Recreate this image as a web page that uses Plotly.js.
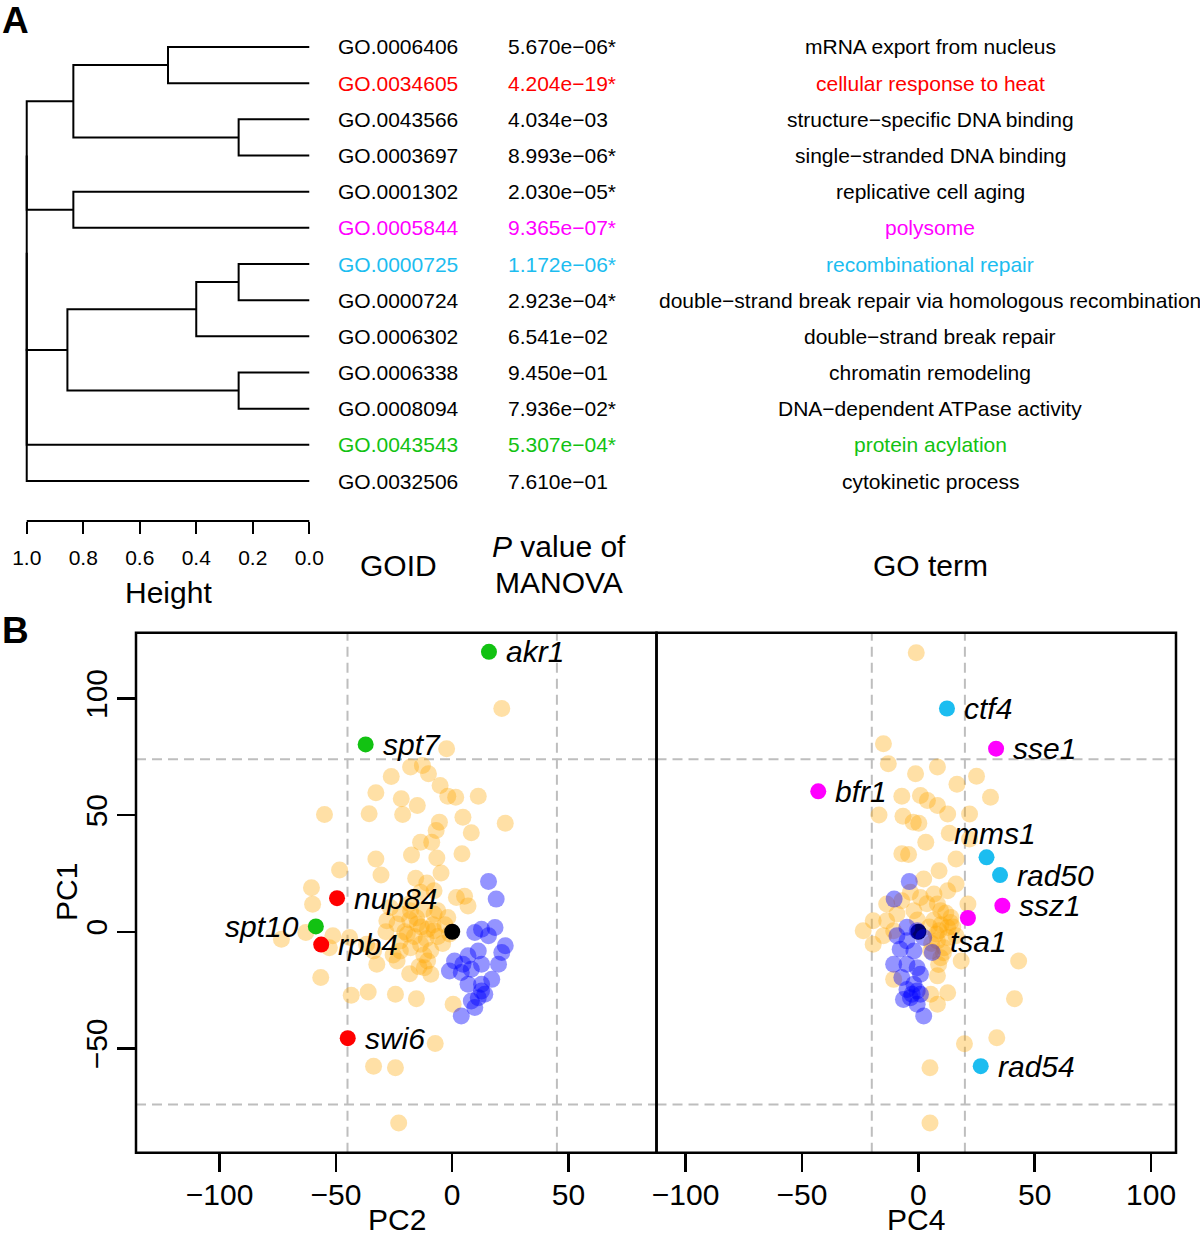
<!DOCTYPE html>
<html>
<head>
<meta charset="utf-8">
<script src="https://cdn.plot.ly/plotly-3.0.1.min.js"></script>
<style>html,body{margin:0;padding:0;background:#fff;}#chart{width:1200px;height:1235px;}</style>
</head>
<body>
<div id="chart"></div>
<script>
// ---------------- Panel A data ----------------
const goIds = ["GO.0006406","GO.0034605","GO.0043566","GO.0003697","GO.0001302","GO.0005844","GO.0000725","GO.0000724","GO.0006302","GO.0006338","GO.0008094","GO.0043543","GO.0032506"];
const pValues = ["5.670e\u221206*","4.204e\u221219*","4.034e\u221203","8.993e\u221206*","2.030e\u221205*","9.365e\u221207*","1.172e\u221206*","2.923e\u221204*","6.541e\u221202","9.450e\u221201","7.936e\u221202*","5.307e\u221204*","7.610e\u221201"];
const goTerms = ["mRNA export from nucleus","cellular response to heat","structure\u2212specific DNA binding","single\u2212stranded DNA binding","replicative cell aging","polysome","recombinational repair","double\u2212strand break repair via homologous recombination","double\u2212strand break repair","chromatin remodeling","DNA\u2212dependent ATPase activity","protein acylation","cytokinetic process"];
const rowColors = ["#000000","#FF0000","#000000","#000000","#000000","#FF00FF","#1CBDF0","#000000","#000000","#000000","#000000","#12C212","#000000"];
// hclust-style merge table (negative = leaf index, positive = earlier merge)
const mergeTable = [[-1,-2],[-3,-4],[1,2],[-5,-6],[-7,-8],[5,-9],[-10,-11],[6,7],[3,4],[9,8],[10,-12],[11,-13]];
const mergeHeights = [0.50,0.25,0.835,0.835,0.25,0.40,0.25,0.856,1.0,1.0,1.0,1.0];
const heightTicks = [1.0,0.8,0.6,0.4,0.2,0.0];

// ---------------- Panel B data ----------------
// left panel: PC2 (x) vs PC1 (y)
const bgPC2 = [21.3,-2.4,-17.9,-12.8,-10.2,-26.2,-5.2,-32.8,-21.9,-15.0,-1.9,1.5,11.2,-54.9,-35.7,-21.3,4.6,-5.5,22.8,-6.9,8.2,-13.6,-8.8,-17.5,-6.6,4.2,-32.8,-30.6,-4.8,-15.7,-10.9,-48.4,-60.5,-60.0,5.3,1.8,-13.6,-7.8,-26.6,-22.3,-17.9,-12.0,-7.8,-1.9,6.8,-15.0,-10.6,-19.3,-23.7,-28.1,-7.8,-17.9,-13.6,-22.3,-33.8,-36.8,-44.1,-51.3,-62.9,-73.4,-52.8,-32.4,-23.7,-10.6,-12.0,-9.2,-56.5,-43.4,-36.1,-24.4,-15.4,0.4,-7.3,-33.8,-24.4,-23.0,-18.3,-13.3,-8.2,-16.3,-11.2,-6.2,-20.4,-3.1,-15.3,-9.2,-4.1,-22.4,-25.4,-12.2,-6.2,-18.3,-1.1,-28.5,-14.3,-18.3];
const bgPC1a = [95.7,78.5,70.6,71.3,67.7,66.6,62.7,59.6,57.0,54.1,58.1,57.7,58.1,50.3,50.6,50.3,49.1,47.0,46.5,43.4,42.4,38.4,38.4,32.9,31.6,33.4,31.2,24.3,25.2,22.9,20.9,26.5,18.9,11.8,15.2,14.7,16.9,17.6,10.4,7.6,9.0,9.7,7.6,6.1,11.1,3.3,1.1,-1.0,3.3,4.7,0.4,-6.8,-5.3,-8.2,-8.2,-5.3,-2.5,-1.7,-0.3,-3.2,-6.8,-13.9,-12.5,-12.5,-15.4,-18.2,-19.6,-27.2,-25.8,-26.8,-28.7,-31.1,-47.9,-57.6,-58.3,-82.0,5,2,3,-2,-3,-2,0,3,6,-8,-5,-4,-10,-10,9,12,-1,0,-15,-18];
const blPC2 = [15.6,18.9,12.6,18.4,9.7,15.6,22.8,21.3,11.2,6.8,1.0,4.6,12.6,19.9,-1.2,3.9,8.2,17.0,6.8,12.6,11.2,14.0,8.2,9.7,3.9,12.6];
const blPC1a = [21.6,14.0,1.1,1.8,-0.3,-1.7,-6.0,-8.9,-8.2,-10.3,-12.5,-13.9,-13.9,-13.9,-16.8,-17.5,-16.1,-20.4,-22.5,-25.4,-28.3,-26.8,-29.7,-32.5,-36.1,-22.5];
// right panel: PC4 (x) vs PC1 (y)
const bgPC4 = [-0.9,-15.0,-12.9,8.2,-1.2,25.0,16.6,-7.1,0.9,3.9,31.0,8.2,12.6,22.0,-16.9,-6.6,-2.2,0.2,13.3,3.2,22.0,-7.1,-4.2,16.2,8.9,2.3,16.2,12.6,-3.4,6.7,-13.6,-7.1,0.9,8.2,21.3,-9.2,-1.9,9.6,14.0,12.6,8.9,-13.6,-19.4,-23.7,-19.4,-15.0,-10.6,8.2,11.1,18.4,5.3,9.6,43.1,-10.6,8.2,5.3,12.6,8.2,41.3,33.7,19.8,5.0,5.0,16.2,12.6,6.7,9.7,4.7,13.8,7.7,11.8,5.7,10.8,3.7,-0.4,14.8,8.7];
const bgPC1b = [119.6,80.6,72.0,70.6,67.7,66.7,63.2,58.1,58.4,56.3,57.7,54.1,50.5,50.5,50.1,49.5,47.0,46.5,42.2,38.4,39.8,33.4,33.1,31.2,26.2,22.6,20.5,17.6,16.9,16.2,11.9,13.3,14.7,11.9,11.9,7.6,9.0,9.0,6.1,1.8,0.4,4.7,4.7,0.4,-5.3,-1.7,0.4,-3.9,-6.8,-12.5,-8.2,-11.1,-12.5,-20.4,-18.9,-26.8,-26.1,-31.1,-28.7,-45.4,-48.0,-58.3,-82.0,-1.7,-2.5,5,3,2,4,-1,8,-5,-9,12,5,2,-14];
const blPC4 = [-3.9,-10.4,-4.9,-9.2,-0.5,-4.9,2.3,-7.8,-1.9,6.0,-10.6,-4.9,-0.5,0.9,-7.1,-1.9,-4.9,-0.5,-3.4,-6.4,-0.5,2.3,-2.7,0.9];
const blPC1b = [21.5,14.0,1.9,-1.7,0.4,-3.9,-2.5,-7.5,-8.2,-8.9,-13.9,-13.9,-15.4,-18.2,-19.6,-22.5,-24.7,-25.4,-28.3,-29.0,-31.1,-36.1,-26.8,-26.8];
const centerPoint = [0, 0];
// highlighted genes
const genesL = ["akr1","spt7","nup84","spt10","rpb4","swi6"];
const genesLPC2 = [15.8,-37.2,-49.5,-58.6,-56.3,-44.9];
const genesLPC1 = [120.0,80.3,14.4,2.3,-5.5,-45.6];
const genesLColor = ["#12C212","#12C212","#FF0000","#12C212","#FF0000","#FF0000"];
const genesLSide = ["right","right","right","left","right","right"];
const genesR = ["ctf4","sse1","bfr1","mms1","rad50","ssz1","tsa1","rad54"];
const genesRPC4 = [12.3,33.4,-43.0,29.3,35.1,36.1,21.3,26.8];
const genesRPC1 = [95.7,78.5,60.2,31.9,24.3,11.2,5.9,-57.6];
const genesRColor = ["#1CBDF0","#FF00FF","#FF00FF","#1CBDF0","#1CBDF0","#FF00FF","#FF00FF","#1CBDF0"];
const genesRSide = ["right","right","right","above","right","right","below","right"];
const pc1Cut = 74, pc2Cut = 45, pc4Cut = 20;
const ticksPC = [-100,-50,0,50,100];
const ticksPC1 = [-50,0,50,100];

// ---------------- build ----------------
const W = 1200, H = 1235;
const PX = p => p / W, PY = p => 1 - p / H;
const FONT = "Liberation Sans, Arial, Helvetica, sans-serif";

// dendrogram segments
const dX = [], dY = [];
const nodeY = [], nodeH = [];
function childPos(c) { return c < 0 ? {y: -c, h: 0} : {y: nodeY[c - 1], h: nodeH[c - 1]}; }
mergeTable.forEach((m, i) => {
  const a = childPos(m[0]), b = childPos(m[1]), h = mergeHeights[i];
  dX.push(a.h, h, h, b.h, null);
  dY.push(a.y, a.y, b.y, b.y, null);
  nodeY[i] = (a.y + b.y) / 2; nodeH[i] = h;
});

const traces = [];
traces.push({x: dX, y: dY, xaxis: 'x', yaxis: 'y', mode: 'lines', line: {color: '#000', width: 2}, hoverinfo: 'skip'});

const orange = 'rgba(255,165,0,0.35)', blue = 'rgba(0,0,255,0.42)';
function pts(x, y, ax, color, size) {
  return {x: x, y: y, xaxis: ax, yaxis: 'y2', mode: 'markers', marker: {color: color, size: size, line: {width: 0}}, hoverinfo: 'skip'};
}
traces.push(pts(bgPC2, bgPC1a, 'x2', orange, 17));
traces.push(pts([centerPoint[0]], [centerPoint[1]], 'x2', '#000', 16));
traces.push(pts(blPC2, blPC1a, 'x2', blue, 17));
traces.push(pts(genesLPC2, genesLPC1, 'x2', genesLColor, 16));
traces.push(pts(bgPC4, bgPC1b, 'x3', orange, 17));
traces.push(pts([centerPoint[0]], [centerPoint[1]], 'x3', '#000', 16));
traces.push(pts(blPC4, blPC1b, 'x3', blue, 17));
traces.push(pts(genesRPC4, genesRPC1, 'x3', genesRColor, 16));

const annotations = [];
function txt(text, x, y, size, opts) {
  return Object.assign({text: text, x: x, y: y, xref: 'paper', yref: 'paper', showarrow: false,
    font: {family: FONT, size: size, color: '#000'}, xanchor: 'center', yanchor: 'middle'}, opts || {});
}
// rows
goIds.forEach((id, i) => {
  const c = rowColors[i];
  annotations.push(txt(id, PX(336), i + 1, 21, {yref: 'y', xanchor: 'left', font: {family: FONT, size: 21, color: c}}));
  annotations.push(txt(pValues[i], PX(506), i + 1, 21, {yref: 'y', xanchor: 'left', font: {family: FONT, size: 21, color: c}}));
  annotations.push(txt(goTerms[i], PX(930), i + 1, 21, {yref: 'y', font: {family: FONT, size: 21, color: c}}));
});
annotations.push(txt('GOID', PX(398), PY(565), 30));
annotations.push(txt('<i>P</i> value of', PX(559), PY(546), 30));
annotations.push(txt('MANOVA', PX(559), PY(583), 30));
annotations.push(txt('GO term', PX(930), PY(565), 30));
annotations.push(txt('Height', PX(168), PY(592), 30));
annotations.push(txt('<b>A</b>', PX(15), PY(20), 37, {borderpad: 0}));
annotations.push(txt('<b>B</b>', PX(15), PY(630), 37, {borderpad: 0}));
annotations.push(txt('PC2', PX(397), PY(1219), 30, {borderpad: 0}));
annotations.push(txt('PC4', PX(916), PY(1219), 30, {borderpad: 0}));
annotations.push(txt('PC1', PX(66), PY(892), 30, {textangle: -90}));

function geneLabel(name, x, y, ax, side) {
  const a = {text: '<i>' + name + '</i>', x: x, y: y, xref: ax, yref: 'y2', showarrow: false,
    font: {family: FONT, size: 30, color: '#000'}, yanchor: 'middle'};
  if (side === 'right') { a.xanchor = 'left'; a.xshift = 15; }
  else if (side === 'left') { a.xanchor = 'right'; a.xshift = -15; }
  else if (side === 'above') { a.xanchor = 'center'; a.xshift = 8; a.yshift = 24; }
  else { a.xanchor = 'center'; a.xshift = 11; a.yshift = -23; }
  return a;
}
genesL.forEach((g, i) => annotations.push(geneLabel(g, genesLPC2[i], genesLPC1[i], 'x2', genesLSide[i])));
genesR.forEach((g, i) => annotations.push(geneLabel(g, genesRPC4[i], genesRPC1[i], 'x3', genesRSide[i])));

const dash = {color: '#BEBEBE', width: 2, dash: '10px,6px'};
const shapes = [
  // dendrogram axis line
  {type: 'line', xref: 'x', yref: 'paper', x0: heightTicks[0], x1: heightTicks[heightTicks.length - 1], y0: PY(521), y1: PY(521), line: {color: '#000', width: 2}},
  // dashed thresholds
  {type: 'line', layer: 'below', xref: 'x2 domain', yref: 'y2', x0: 0, x1: 1, y0: pc1Cut, y1: pc1Cut, line: dash},
  {type: 'line', layer: 'below', xref: 'x2 domain', yref: 'y2', x0: 0, x1: 1, y0: -pc1Cut, y1: -pc1Cut, line: dash},
  {type: 'line', layer: 'below', xref: 'x3 domain', yref: 'y2', x0: 0, x1: 1, y0: pc1Cut, y1: pc1Cut, line: dash},
  {type: 'line', layer: 'below', xref: 'x3 domain', yref: 'y2', x0: 0, x1: 1, y0: -pc1Cut, y1: -pc1Cut, line: dash},
  {type: 'line', layer: 'below', xref: 'x2', yref: 'y2 domain', x0: -pc2Cut, x1: -pc2Cut, y0: 0, y1: 1, line: dash},
  {type: 'line', layer: 'below', xref: 'x2', yref: 'y2 domain', x0: pc2Cut, x1: pc2Cut, y0: 0, y1: 1, line: dash},
  {type: 'line', layer: 'below', xref: 'x3', yref: 'y2 domain', x0: -pc4Cut, x1: -pc4Cut, y0: 0, y1: 1, line: dash},
  {type: 'line', layer: 'below', xref: 'x3', yref: 'y2 domain', x0: pc4Cut, x1: pc4Cut, y0: 0, y1: 1, line: dash},
  // panel boxes
  {type: 'rect', xref: 'x2 domain', yref: 'y2 domain', x0: 0, x1: 1, y0: 0, y1: 1, line: {color: '#000', width: 2.5}},
  {type: 'rect', xref: 'x3 domain', yref: 'y2 domain', x0: 0, x1: 1, y0: 0, y1: 1, line: {color: '#000', width: 2.5}}
];

const baseAx = {showgrid: false, zeroline: false, showline: false, ticks: 'outside', tickcolor: '#000', fixedrange: true};
const layout = {
  width: W, height: H, margin: {l: 0, r: 0, t: 0, b: 0}, paper_bgcolor: '#fff', plot_bgcolor: 'rgba(0,0,0,0)', showlegend: false,
  font: {family: FONT, color: '#000'},
  xaxis: Object.assign({}, baseAx, {domain: [PX(23.9), PX(312.1)], range: [1.01, -0.01], anchor: 'y',
    tickvals: heightTicks, ticktext: heightTicks.map(v => v.toFixed(1)), ticklen: 12, tickwidth: 2,
    tickfont: {family: FONT, size: 21}, ticklabelstandoff: 6}),
  yaxis: {domain: [PY(521), PY(25)], range: [14.105, 0.392], visible: false, fixedrange: true},
  xaxis2: Object.assign({}, baseAx, {domain: [PX(136), PX(656.5)], range: [-135.9, 87.8], anchor: 'y2',
    tickvals: ticksPC, ticklen: 18, tickwidth: 2.5, tickfont: {family: FONT, size: 30}, ticklabelstandoff: -3}),
  xaxis3: Object.assign({}, baseAx, {domain: [PX(656.5), PX(1176)], range: [-112.5, 110.7], anchor: 'y2',
    tickvals: ticksPC, ticklen: 18, tickwidth: 2.5, tickfont: {family: FONT, size: 30}, ticklabelstandoff: -3}),
  yaxis2: Object.assign({}, baseAx, {domain: [PY(1152.7), PY(632.7)], range: [-94.7, 128.2], anchor: 'x2',
    tickvals: ticksPC1, ticklen: 18, tickwidth: 2.5, tickangle: -90, tickfont: {family: FONT, size: 30}, ticklabelstandoff: -2}),
  shapes: shapes,
  annotations: annotations
};
Plotly.newPlot('chart', traces, layout, {staticPlot: true, displayModeBar: false});
</script>
</body>
</html>
